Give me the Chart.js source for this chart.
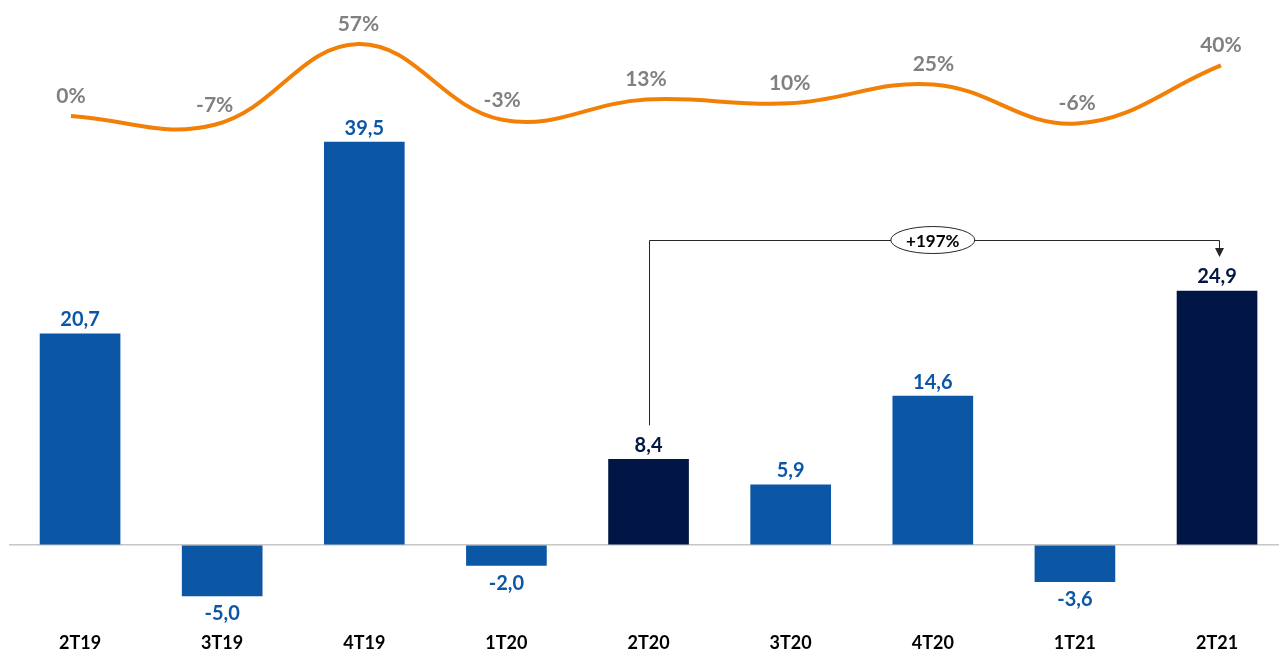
<!DOCTYPE html>
<html lang="pt">
<head>
  <meta charset="UTF-8" />
  <title>Resultado trimestral</title>
  <script src="https://cdn.jsdelivr.net/npm/chart.js"></script>
  <style>
    html, body { margin: 0; padding: 0; background: #fff; }
    #wrap { width: 1279px; height: 652px; }
  </style>
</head>
<body>
  <div id="wrap"><canvas id="grafico"></canvas></div>

  <script>
    // trimestres e valores
    const trimestres = ["2T19", "3T19", "4T19", "1T20", "2T20", "3T20", "4T20", "1T21", "2T21"];
    const valores = [20.7, -5.0, 39.5, -2.0, 8.4, 5.9, 14.6, -3.6, 24.9];
    const variacao = [0, -7, 57, -3, 13, 10, 25, -6, 40];
    const destaques = ["2T20", "2T21"];
    const comparacao = { de: "2T20", para: "2T21", texto: "+197%" };

    const AZUL = "#0c56a6";
    const MARINHO = "#021645";
    const LARANJA = "#f28007";
    const CINZA = "#808080";
    const FONTE = "Lato, 'Open Sans', sans-serif";

    const fmt = v => v.toFixed(1).replace(".", ",");

    // rótulos de valor nas barras e percentuais sobre a linha
    const rotulos = {
      id: "rotulos",
      afterDatasetsDraw(chart) {
        const ctx = chart.ctx;
        ctx.save();
        ctx.textAlign = "center";
        ctx.textBaseline = "middle";

        const barras = chart.getDatasetMeta(1);
        ctx.font = "bold 20px " + FONTE;
        barras.data.forEach((el, i) => {
          const v = valores[i];
          ctx.fillStyle = destaques.includes(trimestres[i]) ? MARINHO : AZUL;
          const y = v >= 0 ? el.y - 14 : el.y + 18;
          ctx.fillText(fmt(v), el.x, y);
        });

        const linha = chart.getDatasetMeta(0);
        ctx.font = "bold 21px " + FONTE;
        ctx.fillStyle = CINZA;
        linha.data.forEach((el, i) => {
          ctx.fillText(variacao[i] + "%", el.x, el.y - 20);
        });
        ctx.restore();
      }
    };

    // seta de comparação entre os dois trimestres destacados
    const seta = {
      id: "seta",
      afterDatasetsDraw(chart) {
        const ctx = chart.ctx;
        const barras = chart.getDatasetMeta(1).data;
        const a = barras[trimestres.indexOf(comparacao.de)];
        const b = barras[trimestres.indexOf(comparacao.para)];
        const yTopo = b.y - 51;
        const xMeio = (a.x + b.x) / 2;

        ctx.save();
        ctx.strokeStyle = "#262626";
        ctx.fillStyle = "#262626";
        ctx.lineWidth = 1;
        ctx.beginPath();
        ctx.moveTo(Math.round(a.x) + 0.5, a.y - 34);
        ctx.lineTo(Math.round(a.x) + 0.5, Math.round(yTopo) + 0.5);
        ctx.lineTo(Math.round(b.x) + 2.5, Math.round(yTopo) + 0.5);
        ctx.lineTo(Math.round(b.x) + 2.5, b.y - 41);
        ctx.stroke();

        // ponta da seta
        const px = Math.round(b.x) + 2.5, py = b.y - 34;
        ctx.beginPath();
        ctx.moveTo(px, py);
        ctx.lineTo(px - 4.5, py - 9);
        ctx.lineTo(px + 4.5, py - 9);
        ctx.closePath();
        ctx.fill();

        // elipse com o percentual
        ctx.beginPath();
        ctx.ellipse(xMeio, yTopo, 42, 13.5, 0, 0, Math.PI * 2);
        ctx.fillStyle = "#fff";
        ctx.fill();
        ctx.stroke();
        ctx.fillStyle = "#000";
        ctx.font = "bold 17px " + FONTE;
        ctx.textAlign = "center";
        ctx.textBaseline = "middle";
        ctx.fillText(comparacao.texto, xMeio, yTopo + 1);
        ctx.restore();
      }
    };

    new Chart(document.getElementById("grafico"), {
      type: "bar",
      data: {
        datasets: [
          {
            type: "line",
            data: variacao.map((v, i) => ({ x: i, y: v })),
            xAxisID: "x2",
            yAxisID: "y2",
            borderColor: LARANJA,
            borderWidth: 4,
            pointRadius: 0,
            tension: 0.4,
            fill: false
          },
          {
            type: "bar",
            data: valores.map((v, i) => ({ x: i, y: v })),
            xAxisID: "x",
            yAxisID: "y",
            backgroundColor: trimestres.map(t => destaques.includes(t) ? MARINHO : AZUL),
            grouped: false,
            barThickness: 80
          }
        ]
      },
      options: {
        responsive: true,
        maintainAspectRatio: false,
        animation: false,
        layout: { padding: { left: 9, right: 0, top: 10, bottom: 0 } },
        plugins: {
          legend: { display: false },
          tooltip: { enabled: false }
        },
        scales: {
          x: {
            type: "linear",
            offset: false,
            min: -0.5,
            max: 8.436,
            grid: { display: false, drawTicks: false },
            border: { display: false },
            afterBuildTicks: s => { s.ticks = trimestres.map((t, i) => ({ value: i })); },
            afterFit: s => { s.height = 32; },
            ticks: {
              autoSkip: false,
              maxRotation: 0,
              padding: 12,
              color: "#000",
              font: { family: FONTE, size: 18, weight: "bold" },
              callback: v => trimestres[v]
            }
          },
          x2: {
            type: "linear",
            display: false,
            offset: false,
            min: -0.431,
            max: 8.404
          },
          y: {
            min: -7.35,
            max: 52.45,
            border: { display: false },
            afterBuildTicks: s => { s.ticks = [{ value: 0 }]; },
            grid: { color: "#c6c6c6", lineWidth: 1.5, drawTicks: false },
            ticks: { display: false }
          },
          y2: {
            display: false,
            min: -399.1,
            max: 83.9
          }
        }
      },
      plugins: [rotulos, seta]
    });
  </script>
</body>
</html>
